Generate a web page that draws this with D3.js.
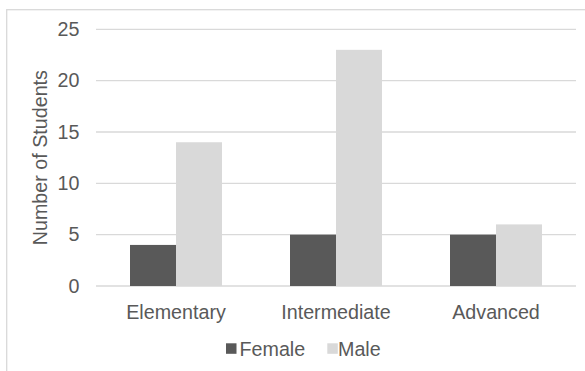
<!DOCTYPE html>
<html>
<head>
<meta charset="utf-8">
<script src="https://cdn.jsdelivr.net/npm/d3@7"></script>
<style>
html,body{margin:0;padding:0;background:#fff;}
svg{display:block;}
text{font-family:"Liberation Sans",Arial,sans-serif;fill:#595959;}
</style>
</head>
<body>
<svg id="chart" width="585" height="371"></svg>
<script>
const categories = ["Elementary", "Intermediate", "Advanced"];
const seriesNames = ["Female", "Male"];
const female = [4, 5, 5];
const male = [14, 23, 6];
const yTicks = [0, 5, 10, 15, 20, 25];
const colors = ["#595959", "#d9d9d9"];

const svg = d3.select("#chart");
const plot = {left: 96, right: 576, top: 29.3, bottom: 286};
const fontSize = 19.7;

// chart border
svg.append("rect")
  .attr("x", 6.7).attr("y", 9.7)
  .attr("width", 600).attr("height", 400)
  .attr("fill", "none").attr("stroke", "#d9d9d9").attr("stroke-width", 1.3);

const x = d3.scaleBand().domain(categories).range([plot.left, plot.right]).paddingInner(0).paddingOuter(0);
const y = d3.scaleLinear().domain([0, 25]).range([plot.bottom, plot.top]);

// gridlines
svg.append("g").selectAll("line").data(yTicks).join("line")
  .attr("x1", plot.left).attr("x2", plot.right)
  .attr("y1", d => y(d)).attr("y2", d => y(d))
  .attr("stroke", "#d9d9d9").attr("stroke-width", 1.3);

// y tick labels
const yAxis = d3.axisLeft(y).tickValues(yTicks).tickSize(0).tickPadding(0);
const ya = svg.append("g").attr("transform", `translate(79.5,0)`).call(yAxis);
ya.select(".domain").remove();
ya.selectAll("text").attr("font-size", fontSize).attr("fill", "#595959")
  .attr("font-family", "Liberation Sans, Arial, sans-serif");

// bars
const barW = 46;
const data = categories.map((c, i) => ({c, vals: [female[i], male[i]]}));
const g = svg.append("g");
data.forEach(d => {
  const cx = x(d.c) + x.bandwidth() / 2;
  d.vals.forEach((v, k) => {
    g.append("rect")
      .attr("x", cx - barW + k * barW)
      .attr("y", y(v))
      .attr("width", barW)
      .attr("height", y(0) - y(v))
      .attr("fill", colors[k]);
  });
});

// x labels
const xAxis = d3.axisBottom(x).tickSize(0).tickPadding(0);
const xa = svg.append("g").attr("transform", `translate(0,${plot.bottom})`).call(xAxis);
xa.select(".domain").remove();
xa.selectAll("text").attr("font-size", fontSize).attr("fill", "#595959")
  .attr("font-family", "Liberation Sans, Arial, sans-serif")
  .attr("dy", null).attr("y", 32.5);

// axis title
svg.append("text")
  .attr("transform", `translate(46.5,${(plot.top + plot.bottom) / 2}) rotate(-90)`)
  .attr("text-anchor", "middle")
  .attr("font-size", fontSize)
  .text("Number of Students");

// legend
const legendItems = [
  {name: seriesNames[0], color: colors[0], sx: 226, tx: 239.5},
  {name: seriesNames[1], color: colors[1], sx: 327.3, tx: 338}
];
const lg = svg.append("g");
legendItems.forEach(it => {
  lg.append("rect").attr("x", it.sx).attr("y", 343.3).attr("width", 10.5).attr("height", 10.5).attr("fill", it.color);
  lg.append("text").attr("x", it.tx).attr("y", 355.5).attr("font-size", fontSize).text(it.name);
});
</script>
</body>
</html>
